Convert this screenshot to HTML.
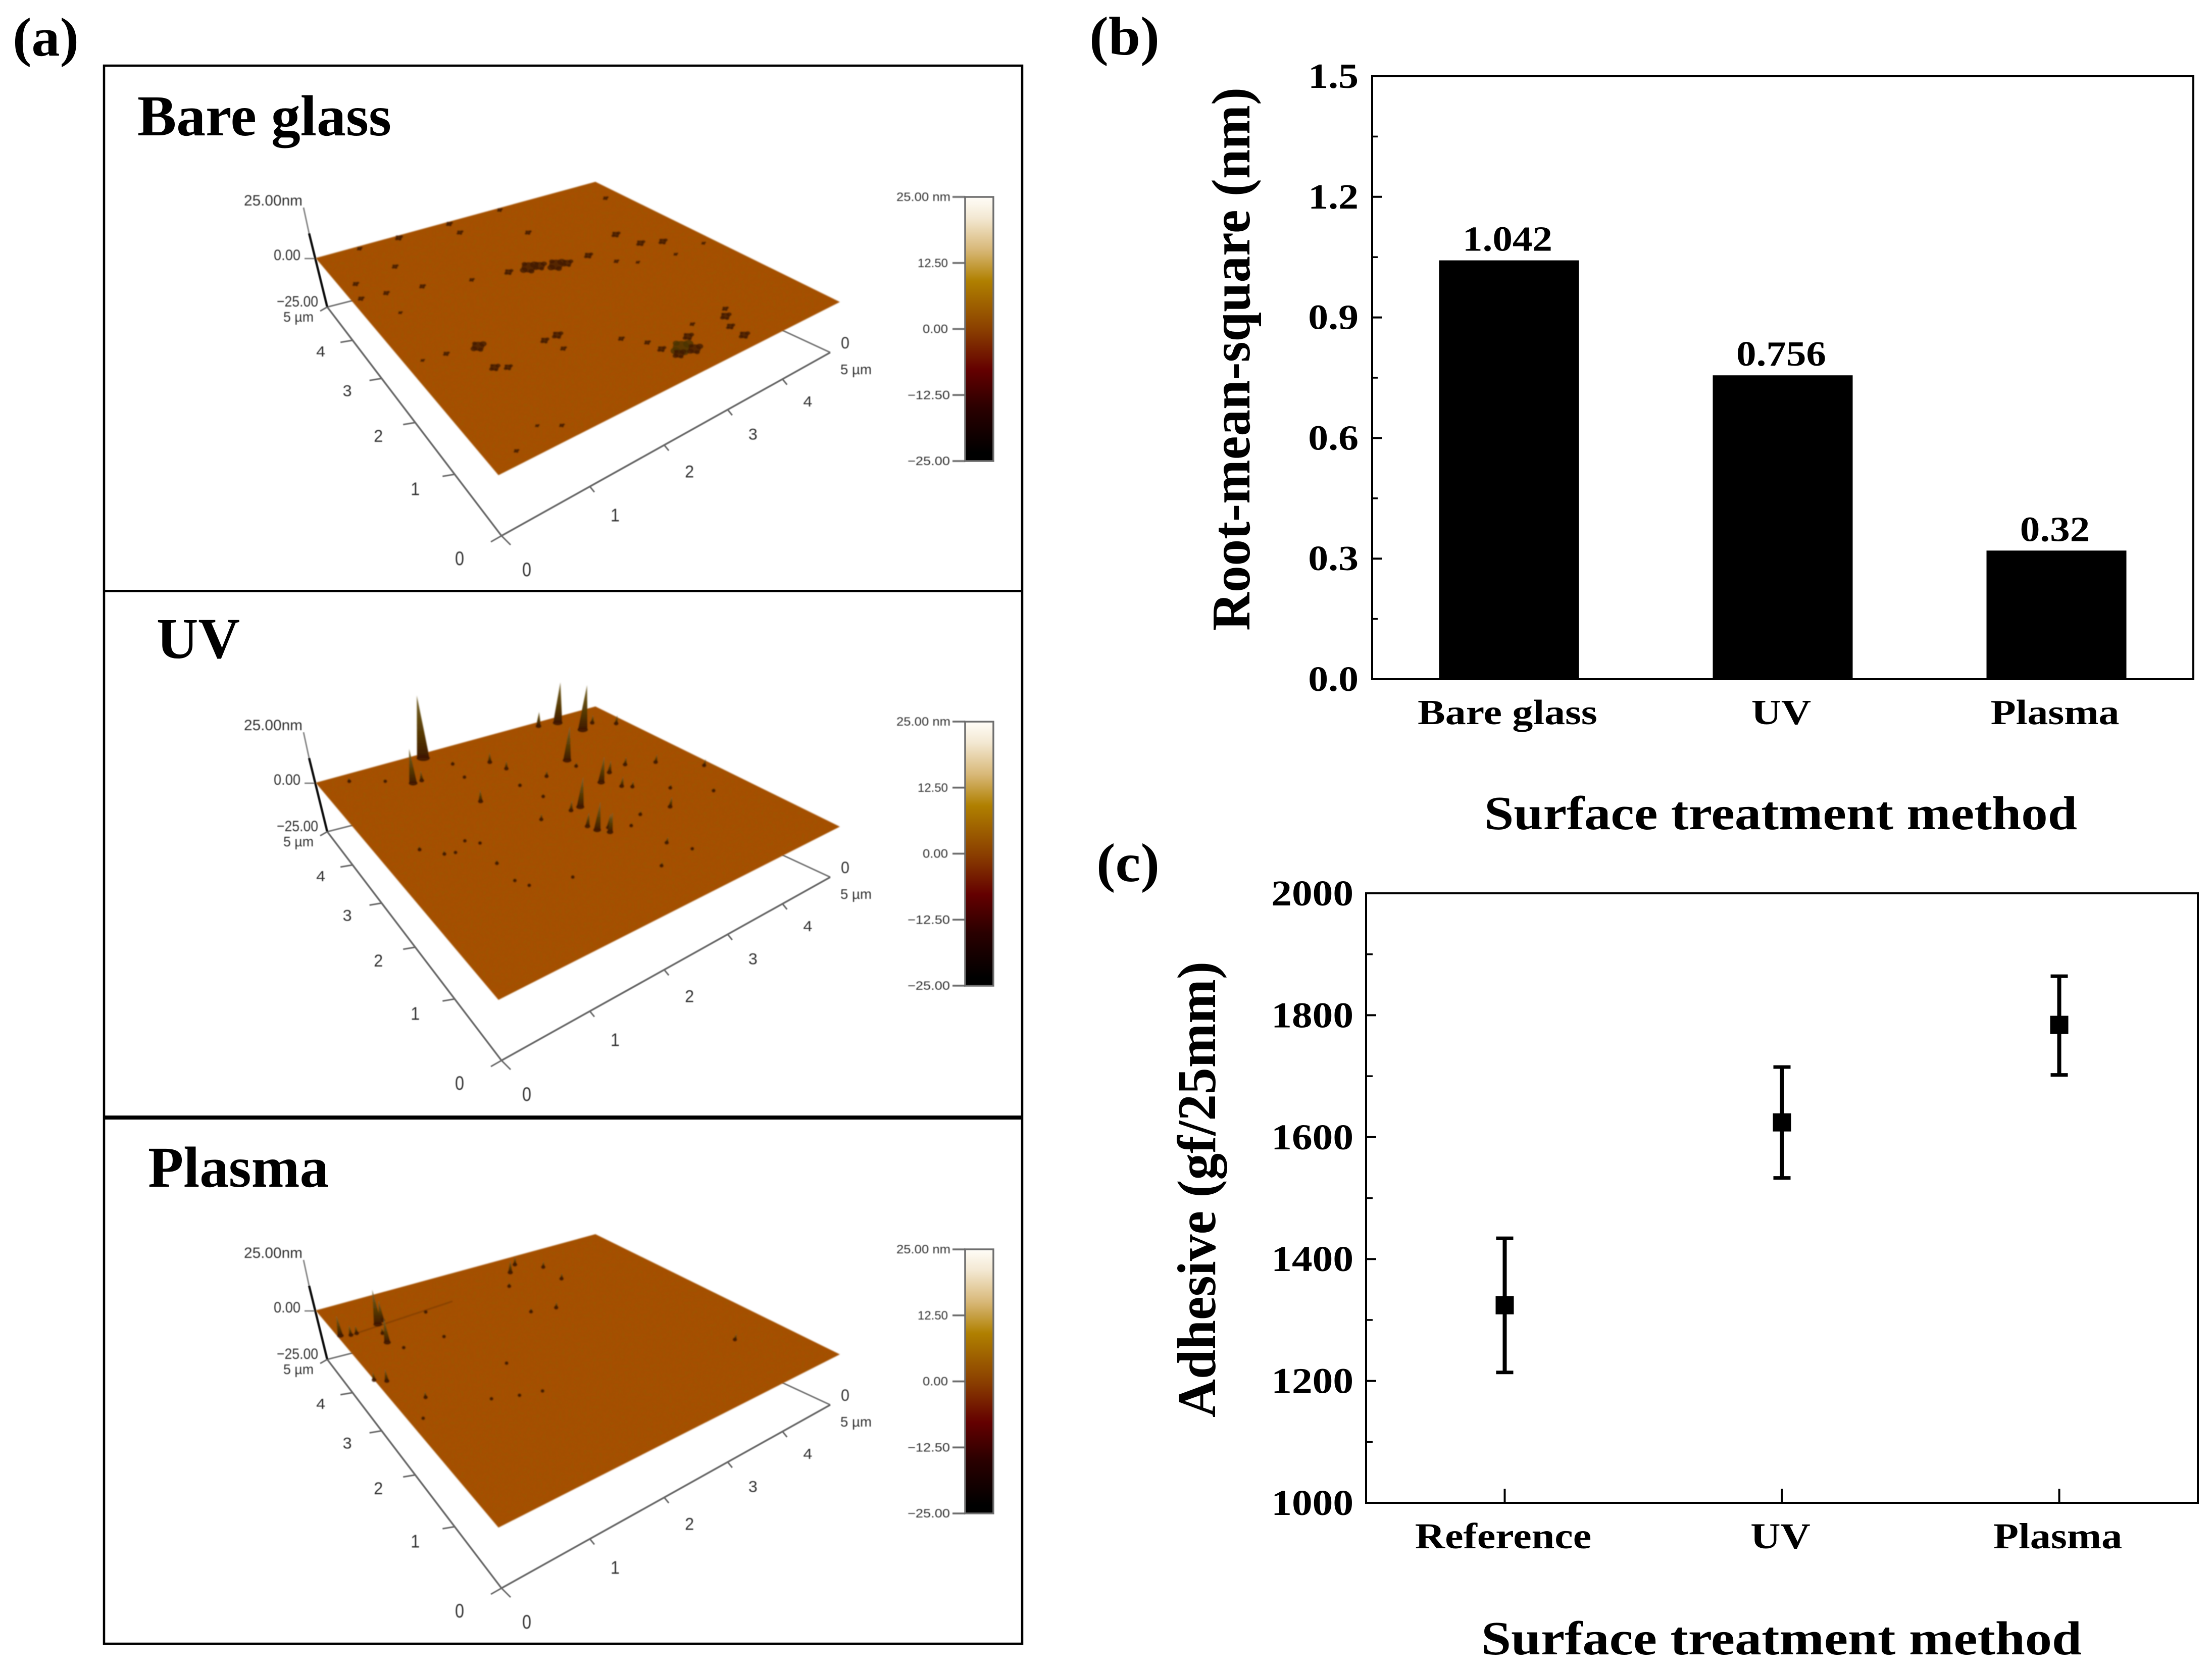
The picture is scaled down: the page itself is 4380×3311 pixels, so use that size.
<!DOCTYPE html>
<html lang="en">
<head>
<meta charset="utf-8">
<title>Surface roughness and adhesion by surface treatment</title>
<style>
html,body{margin:0;padding:0;background:#fff;}
body{width:4380px;height:3311px;overflow:hidden;}
svg{display:block;}
.serif{font-family:"Liberation Serif",serif;font-weight:700;fill:#000;}
.afm-label{font-family:"Liberation Sans",sans-serif;fill:#333;}
</style>
</head>
<body>
<svg id="figure" xmlns="http://www.w3.org/2000/svg" width="4380" height="3311" viewBox="0 0 4380 3311">
  <defs>
    <linearGradient id="afm-colormap" x1="0" y1="0" x2="0" y2="1">
      <stop offset="0" stop-color="#fffdf8"/>
      <stop offset="0.08" stop-color="#f3e8d2"/>
      <stop offset="0.2" stop-color="#d8b878"/>
      <stop offset="0.318" stop-color="#b08000"/>
      <stop offset="0.51" stop-color="#893c00"/>
      <stop offset="0.655" stop-color="#640000"/>
      <stop offset="0.8" stop-color="#2a0000"/>
      <stop offset="0.97" stop-color="#000000"/>
    </linearGradient>
    <linearGradient id="spike-fill" x1="0" y1="0" x2="0" y2="1">
      <stop offset="0" stop-color="#7a6a35"/>
      <stop offset="0.45" stop-color="#5e4408"/>
      <stop offset="1" stop-color="#3f1a00"/>
    </linearGradient>
    <filter id="afm-noise" x="0" y="0" width="1" height="1">
      <feTurbulence type="fractalNoise" baseFrequency="0.16" numOctaves="2" seed="4"/>
      <feColorMatrix type="matrix" values="0 0 0 0 0.3  0 0 0 0 0.1  0 0 0 0 0  1.8 0 0 0 -0.7"/>
      <feComposite in2="SourceGraphic" operator="in"/>
    </filter>
    <filter id="soft-afm" x="-5%" y="-5%" width="110%" height="110%"><feGaussianBlur stdDeviation="1.3"/></filter>
    <filter id="soft-label" x="-10%" y="-10%" width="120%" height="120%"><feGaussianBlur stdDeviation="0.9"/></filter>
  </defs>

  <rect x="0" y="0" width="4380" height="3311" fill="#fff"/>

  <text class="serif" x="25" y="110" font-size="108" textLength="131" lengthAdjust="spacingAndGlyphs">(a)</text>
  <text class="serif" x="2157" y="108" font-size="108" textLength="139" lengthAdjust="spacingAndGlyphs">(b)</text>
  <text class="serif" x="2171" y="1745" font-size="108" textLength="125" lengthAdjust="spacingAndGlyphs">(c)</text>

  <g id="afm-root"></g>

  <g>
    <rect x="206" y="130" width="1818" height="3125" fill="none" stroke="#000" stroke-width="4.5"/>
    <rect x="206" y="1168" width="1818" height="4.5" fill="#000"/>
    <rect x="206" y="2209" width="1818" height="8" fill="#000"/>
  </g>

  <text class="serif" x="272" y="268" font-size="114" textLength="503" lengthAdjust="spacingAndGlyphs">Bare glass</text>
  <text class="serif" x="310" y="1303" font-size="114" textLength="165" lengthAdjust="spacingAndGlyphs">UV</text>
  <text class="serif" x="293" y="2350" font-size="114" textLength="358" lengthAdjust="spacingAndGlyphs">Plasma</text>

  <g id="rms-chart"></g>
  <text class="serif" transform="translate(2474,1249) rotate(-90)" font-size="108" textLength="1076" lengthAdjust="spacingAndGlyphs">Root-mean-square (nm)</text>
  <text class="serif" x="2939" y="1642" font-size="94" textLength="1174" lengthAdjust="spacingAndGlyphs">Surface treatment method</text>

  <g id="adhesion-chart"></g>
  <text class="serif" transform="translate(2406,2807) rotate(-90)" font-size="108" textLength="903" lengthAdjust="spacingAndGlyphs">Adhesive (gf/25mm)</text>
  <text class="serif" x="2933" y="3276" font-size="94" textLength="1189" lengthAdjust="spacingAndGlyphs">Surface treatment method</text>
</svg>

<script>
/* ---------- (b) RMS bar chart data ---------- */
const rmsCategories = ['Bare glass', 'UV', 'Plasma'];
const rmsValues = [1.042, 0.756, 0.32];
const rmsTicks = [0, 0.3, 0.6, 0.9, 1.2, 1.5];
const rmsTickLabels = ['0.0', '0.3', '0.6', '0.9', '1.2', '1.5'];
const rmsMinorTicks = [0.15, 0.45, 0.75, 1.05, 1.35];

/* ---------- (c) adhesion chart data ---------- */
const adhesionCategories = ['Reference', 'UV', 'Plasma'];
const adhesionMeans = [1325, 1625, 1785];
const adhesionLower = [1214, 1533, 1702];
const adhesionUpper = [1434, 1715, 1864];
const adhesionTicks = [1000, 1200, 1400, 1600, 1800, 2000];
const adhesionTickLabels = ['1000', '1200', '1400', '1600', '1800', '2000'];
const adhesionMinorTicks = [1100, 1300, 1500, 1700, 1900];

/* ---------- (a) AFM data: [u, v, nm], u and v are fractions of the scan along its two edges ---------- */
const bareGlassFeatures = [
  [.03,.80,2],[.11,.79,2],[.22,.77,2],[.36,.73,1.5],[.47,.71,3],[.53,.70,7],[.56,.69,5],[.60,.67,7],[.63,.66,4],
  [.70,.66,3],[.74,.59,1.5],[.78,.55,1],[.90,.60,3],[.85,.63,3],[.83,.71,3],[.95,.90,1.5],
  [.65,.99,1.5],[.47,.99,2],[.29,.99,2.5],[.15,.99,1.5],[.64,.85,2],[.47,.94,2],[.20,.88,2],[.05,.86,2],
  [.62,.13,9],[.60,.11,5],[.64,.10,6],[.58,.16,3],[.66,.16,4],[.78,.17,4],[.80,.20,2],[.76,.12,3],[.76,.06,4],
  [.21,.47,6],[.41,.39,4],[.37,.39,3],[.39,.33,2],[.20,.37,4],[.23,.35,3],[.12,.49,2],
  [.53,.27,2],[.57,.21,2],[.22,.06,1.5],[.08,.05,1.5],
  [.97,.52,1],[.88,.52,1],[.10,.70,1],[.17,.10,1],[.70,.20,1.5],[.05,.50,1]
];
const uvFeatures = [
  [.37,.98,31],[.27,.89,17],[.30,.89,5],[.78,.98,7],[.84,.97,20],[.87,.90,22],[.72,.78,17],[.72,.63,13],
  [.60,.56,15],[.77,.66,6],[.57,.44,14],[.56,.47,7],[.60,.43,7],[.59,.41,10],[.53,.88,5],[.39,.73,6],
  [.55,.83,4],[.62,.74,3],[.57,.56,5],[.48,.57,3],[.78,.41,5],[.67,.27,3],[.98,.53,3],[.90,.63,4],
  [.83,.67,4],[.75,.58,5],[.77,.56,3],[.97,.88,4],[.92,.92,4],[.12,.63,2],[.17,.58,2],[.27,.47,2],[.60,.19,2],
  [.25,.60,1],[.28,.57,1],[.20,.57,1],[.29,.34,1],[.27,.38,1],[.40,.30,1],[.70,.20,1],[.91,.40,1.5],[.84,.49,2],
  [.70,.43,2],[.65,.40,1.5],[.42,.85,1],[.20,.93,1],[.10,.97,2],[.43,.92,1.5],[.53,.74,1.5],[.55,.66,1.5],[.72,.74,2]
];
const plasmaFeatures = [
  [.14,.88,17],[.12,.80,12],[.16,.89,10],[.01,.88,10],[.04,.87,5],[.06,.87,4],[.13,.84,3],[.03,.66,6],[.00,.68,4],
  [.64,.93,6],[.74,.91,3],[.74,.83,3],[.56,.73,2],[.09,.55,3],[.59,.87,2],[.88,.27,3],[.68,.96,4],[.63,.71,3],
  [.15,.76,1],[.28,.75,1],[.24,.45,1],[.31,.42,1],[.37,.40,1],[.36,.56,1],[.04,.48,1],[.30,.87,1]
];
const afmFeatureSets = [bareGlassFeatures, uvFeatures, plasmaFeatures];
const afmFeatureKinds = ['pit', 'spike', 'spike'];
const afmPanelNames = ['bare-glass', 'uv', 'plasma'];
const colorbarValues = [25, 12.5, 0, -12.5, -25];
const colorbarLabels = ['25.00 nm', '12.50', '0.00', '\u221212.50', '\u221225.00'];
const lateralTicks = [0, 1, 2, 3, 4, 5];
const lateralTickLabels = ['0', '1', '2', '3', '4', '5 \u00b5m'];

/* ---------- helpers ---------- */
const SVGNS = 'http://www.w3.org/2000/svg';
function svgEl(tag, attrs, parent) {
  const el = document.createElementNS(SVGNS, tag);
  for (const k in attrs) el.setAttribute(k, attrs[k]);
  parent.appendChild(el);
  return el;
}
function serifText(parent, str, x, y, size, sx, anchor) {
  const el = svgEl('text', {
    'class': 'serif',
    'font-size': size,
    'text-anchor': anchor,
    transform: 'translate(' + x + ',' + y + ') scale(' + sx + ',1)'
  }, parent);
  el.textContent = str;
  return el;
}

/* ---------- (b) ---------- */
(function () {
  const root = document.getElementById('rms-chart');
  const left = 2717, right = 4343, top = 151, bottom = 1345;
  const yMin = 0, yMax = 1.5;
  const y = v => bottom - (v - yMin) / (yMax - yMin) * (bottom - top);
  const x = i => left + (i + 0.5) / rmsCategories.length * (right - left);
  const barWidth = 277;

  rmsValues.forEach(function (v, i) {
    const bar = svgEl('rect', { x: x(i) - barWidth / 2, y: y(v), width: barWidth, height: bottom - y(v), fill: '#000' }, root);
    
    
    const val = serifText(root, String(v), x(i) - 3, y(v) - 19, 70, 1.13, 'middle');
    
    
    const cat = serifText(root, rmsCategories[i], x(i) - 3, 1434, 70, 1.17, 'middle');
    
    
  });
  rmsTicks.forEach(function (t, i) {
    const tick = svgEl('line', { x1: left, x2: left + 20, y1: y(t), y2: y(t), stroke: '#000', 'stroke-width': 4 }, root);
    
    
    const lab = serifText(root, rmsTickLabels[i], left - 27, y(t) + 23, 70, 1.14, 'end');
    
    
  });
  rmsMinorTicks.forEach(function (t) {
    const tick = svgEl('line', { x1: left, x2: left + 11, y1: y(t), y2: y(t), stroke: '#000', 'stroke-width': 3.5 }, root);
    
    
  });
  const frame = svgEl('rect', { x: left, y: top, width: right - left, height: bottom - top, fill: 'none', stroke: '#000', 'stroke-width': 4 }, root);
  
  
})();

/* ---------- (c) ---------- */
(function () {
  const root = document.getElementById('adhesion-chart');
  const left = 2705, right = 4352, top = 1769, bottom = 2976;
  const yMin = 1000, yMax = 2000;
  const y = v => bottom - (v - yMin) / (yMax - yMin) * (bottom - top);
  const x = i => left + (i + 0.5) / adhesionCategories.length * (right - left);

  const frame = svgEl('rect', { x: left, y: top, width: right - left, height: bottom - top, fill: 'none', stroke: '#000', 'stroke-width': 4 }, root);
  
  

  adhesionTicks.forEach(function (t, i) {
    const tick = svgEl('line', { x1: left, x2: left + 20, y1: y(t), y2: y(t), stroke: '#000', 'stroke-width': 4 }, root);
    
    
    const lab = serifText(root, adhesionTickLabels[i], left - 25, y(t) + 24, 72, 1.13, 'end');
    
    
  });
  adhesionMinorTicks.forEach(function (t) {
    const tick = svgEl('line', { x1: left, x2: left + 13, y1: y(t), y2: y(t), stroke: '#000', 'stroke-width': 3.5 }, root);
    
    
  });
  adhesionCategories.forEach(function (c, i) {
    const tick = svgEl('line', { x1: x(i), x2: x(i), y1: bottom, y2: bottom - 28, stroke: '#000', 'stroke-width': 4 }, root);
    
    
    const cat = serifText(root, c, x(i) - 3, 3066, 72, 1.14, 'middle');
    
    

    const err = svgEl('line', { x1: x(i), x2: x(i), y1: y(adhesionUpper[i]), y2: y(adhesionLower[i]), stroke: '#000', 'stroke-width': 8 }, root);
    
    
    const capTop = svgEl('line', { x1: x(i) - 17, x2: x(i) + 17, y1: y(adhesionUpper[i]), y2: y(adhesionUpper[i]), stroke: '#000', 'stroke-width': 7 }, root);
    
    
    const capBottom = svgEl('line', { x1: x(i) - 17, x2: x(i) + 17, y1: y(adhesionLower[i]), y2: y(adhesionLower[i]), stroke: '#000', 'stroke-width': 7 }, root);
    
    
    const marker = svgEl('rect', { x: x(i) - 18, y: y(adhesionMeans[i]) - 17, width: 36, height: 36, fill: '#000' }, root);
    
    
  });
})();

/* ---------- (a) AFM panels ---------- */
(function () {
  const root = document.getElementById('afm-root');
  const panelShift = [0, 1039, 2084];
  const A = [625, 511], B = [1179, 360], C = [1663, 598], D = [987, 941];
  const surfacePoint = function (u, v) {
    return [0, 1].map(k => D[k] + u * (C[k] - D[k]) + v * (A[k] - D[k]) + u * v * (B[k] - C[k] - A[k] + D[k]));
  };
  const origin = [993, 1061], leftEnd = [648, 608], rightEnd = [1644, 698];
  const axisT = function (n) { const s = n / 5; return s * 1.47 / (1 + s * 0.47); };
  const along = (a, b, t) => [a[0] + (b[0] - a[0]) * t, a[1] + (b[1] - a[1]) * t];
  const pxPerNm = 4;
  const cbTop = 390, cbBottom = 913, cbLeft = 1911, cbRight = 1967;
  const cbY = v => cbTop + (25 - v) / 50 * (cbBottom - cbTop);
  const pitLobes = [[0, 0, 1], [0.8, -0.5, 0.6], [-0.7, 0.5, 0.55], [0.4, 0.7, 0.45], [-0.6, -0.6, 0.4]];

  function afmLabel(parent, str, x, y, size, width, anchor) {
    const el = svgEl('text', { 'class': 'afm-label', x: x, y: y, 'font-size': size, 'text-anchor': anchor, textLength: width, lengthAdjust: 'spacingAndGlyphs' }, parent);
    el.textContent = str;
    return el;
  }
  function axisLine(parent, p, q, color, w) {
    return svgEl('line', { x1: p[0], y1: p[1], x2: q[0], y2: q[1], stroke: color, 'stroke-width': w }, parent);
  }

  afmFeatureSets.forEach(function (features, idx) {
    const panel = svgEl('g', { transform: 'translate(0,' + panelShift[idx] + ')' }, root);
    
    

    /* axes behind the surface */
    const axes = svgEl('g', { filter: 'url(#soft-label)' }, panel);
    
    
    axisLine(axes, leftEnd, [707, 593], '#777', 3);
    axisLine(axes, rightEnd, [1549, 654], '#777', 3);
    axisLine(axes, leftEnd, origin, '#666', 3.5);
    axisLine(axes, origin, rightEnd, '#666', 3.5);
    axisLine(axes, [601, 411], [612, 462], '#8a8a8a', 3);
    axisLine(axes, [612, 462], [648, 608], '#111', 4.5);
    axisLine(axes, origin, [1011, 1079], '#666', 3);
    axisLine(axes, origin, [972, 1073], '#666', 3);
    axisLine(axes, [603, 512], [622, 512], '#888', 3);
    axisLine(axes, leftEnd, [634, 616], '#666', 3);

    lateralTicks.forEach(function (n, i) {
      const t = axisT(n);
      const pL = along(origin, leftEnd, t);
      const pR = along(origin, rightEnd, t);
      if (n > 0 && n < 5) {
        const tl = axisLine(axes, pL, [pL[0] - 24, pL[1] + 4], '#666', 3);
        
        
        const tr = axisLine(axes, pR, [pR[0] + 9, pR[1] + 11], '#666', 3);
        
        
      }
      const isEnd = n === 5;
      const sizeD = 39 - 2.5 * n;
      const ll = afmLabel(axes, lateralTickLabels[i], pL[0] + (isEnd ? -87 : -92 + 5 * n), pL[1] + 44 - 3 * n + (n === 0 ? 14 : 0), isEnd ? 28 : sizeD, isEnd ? 60 : 18, 'start');
      
      
      const rl = afmLabel(axes, lateralTickLabels[i], pR[0] + (isEnd ? 20 : 41), pR[1] + (isEnd ? 43 : 74 - 5 * n) + (n === 0 ? 6 : 0), isEnd ? 28 : sizeD, isEnd ? 62 : 18, 'start');
      
      
    });
    const back0 = afmLabel(axes, '0', 1665, 690, 32, 17, 'start');
    
    
    const z1 = afmLabel(axes, '25.00nm', 483, 407, 30, 116, 'start');
    
    
    const z2 = afmLabel(axes, '0.00', 542, 515, 30, 53, 'start');
    
    
    const z3 = afmLabel(axes, '\u221225.00', 548, 607, 30, 82, 'start');
    
    

    /* surface */
    const surf = svgEl('g', { filter: 'url(#soft-afm)' }, panel);
    
    
    const pts = [A, B, C, D].map(p => p.join(',')).join(' ');
    const poly = svgEl('polygon', { points: pts, fill: '#a64f00' }, surf);
    
    
    const noise = svgEl('polygon', { points: pts, fill: '#000', filter: 'url(#afm-noise)', opacity: 0.6 }, surf);
    
    

    if (idx === 2) {
      const s0 = surfacePoint(0.04, 0.87), s1 = surfacePoint(0.40, 0.88);
      const scratch = svgEl('line', { x1: s0[0], y1: s0[1], x2: s1[0], y2: s1[1], stroke: '#6a3000', 'stroke-width': 3, opacity: 0.5 }, surf);
      
      
    }

    const ordered = features.slice().sort((a, b) => surfacePoint(a[0], a[1])[1] - surfacePoint(b[0], b[1])[1]);
    ordered.forEach(function (f) {
      const p = surfacePoint(f[0], f[1]);
      if (afmFeatureKinds[idx] === 'pit') {
        const r = 2 + f[2] * 1.7;
        pitLobes.forEach(function (lobe) {
          const pit = svgEl('ellipse', { cx: p[0] + lobe[0] * r, cy: p[1] + lobe[1] * r * 0.8, rx: r * lobe[2], ry: r * lobe[2] * 0.75, fill: f[2] > 7 ? '#4a3300' : '#421c00', opacity: 0.8 }, surf);
          
          
        });
      } else {
        const h = f[2] * pxPerNm;
        const w = 5 + h * 0.16;
        const tipX = p[0] + h * (p[0] - 1000) * 0.00064;
        const spike = svgEl('polygon', {
          points: (p[0] - w / 2) + ',' + p[1] + ' ' + tipX + ',' + (p[1] - h) + ' ' + (p[0] + w / 2) + ',' + p[1],
          fill: 'url(#spike-fill)'
        }, surf);
        
        
        const foot = svgEl('ellipse', { cx: p[0], cy: p[1], rx: w / 2 + 1, ry: 3 + w * 0.12, fill: '#3f1a00', opacity: 0.9 }, surf);
        
        
      }
    });

    /* colour bar */
    const cb = svgEl('g', {}, panel);
    
    
    const bar = svgEl('rect', { x: cbLeft, y: cbTop, width: cbRight - cbLeft, height: cbBottom - cbTop, fill: 'url(#afm-colormap)', stroke: '#6e6e6e', 'stroke-width': 3.5 }, cb);
    
    
    const cbText = svgEl('g', { filter: 'url(#soft-label)' }, cb);
    colorbarValues.forEach(function (v, i) {
      const t = axisLine(cbText, [1886, cbY(v)], [cbLeft, cbY(v)], '#666', 3.5);
      
      
      const widths = [107, 60, 50, 84, 84];
      const ends = [1882, 1877, 1877, 1881, 1881];
      const l = afmLabel(cbText, colorbarLabels[i], ends[i], cbY(v) + 8, 24, widths[i], 'end');
      
      
    });
  });
})();
</script>
</body>
</html>
